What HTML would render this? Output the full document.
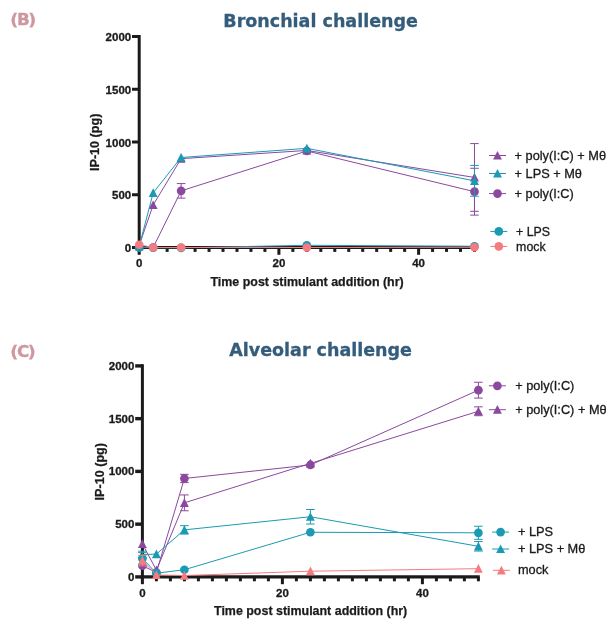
<!DOCTYPE html>
<html><head><meta charset="utf-8"><title>IP-10 challenge charts</title>
<style>
html,body{margin:0;padding:0;background:#fff}
svg{display:block}
.tk{font:bold 11.5px "Liberation Sans",Arial,sans-serif;fill:#1c1a1b;stroke:#1c1a1b;stroke-width:0.3px}
.al{font:bold 12.45px "Liberation Sans",Arial,sans-serif;fill:#1c1a1b;stroke:#1c1a1b;stroke-width:0.25px}
.al2{font:bold 12.6px "Liberation Sans",Arial,sans-serif;fill:#1c1a1b;stroke:#1c1a1b;stroke-width:0.25px}
.lg{font:12.75px "Liberation Sans",Arial,sans-serif;fill:#1c1a1b;stroke:#1c1a1b;stroke-width:0.3px}
.lg2{font:12.35px "Liberation Sans",Arial,sans-serif;fill:#1c1a1b;stroke:#1c1a1b;stroke-width:0.3px}
.tt{font:bold 17.5px "DejaVu Sans","Liberation Sans",sans-serif;fill:#345c7b;stroke:#345c7b;stroke-width:0.3px}
.lb{font:bold 15.7px "DejaVu Sans","Liberation Sans",sans-serif;fill:#cf969e;stroke:#cf969e;stroke-width:0.3px}
</style></head><body>
<svg width="616" height="625" viewBox="0 0 616 625">
<rect width="616" height="625" fill="#fff"/>
<path d="M137.70 247.50H475.83" stroke="#1c1a1b" stroke-width="3.0" fill="none"/>
<path d="M139.20 35.00V249.00" stroke="#1c1a1b" stroke-width="3.0" fill="none"/>
<path d="M132.00 247.50H139.20" stroke="#1c1a1b" stroke-width="3.0"/>
<text x="131.20" y="252.00" text-anchor="end" class="tk">0</text>
<path d="M132.00 194.75H139.20" stroke="#1c1a1b" stroke-width="3.0"/>
<text x="131.20" y="199.25" text-anchor="end" class="tk">500</text>
<path d="M132.00 142.00H139.20" stroke="#1c1a1b" stroke-width="3.0"/>
<text x="131.20" y="146.50" text-anchor="end" class="tk">1000</text>
<path d="M132.00 89.25H139.20" stroke="#1c1a1b" stroke-width="3.0"/>
<text x="131.20" y="93.75" text-anchor="end" class="tk">1500</text>
<path d="M132.00 36.50H139.20" stroke="#1c1a1b" stroke-width="3.0"/>
<text x="131.20" y="41.00" text-anchor="end" class="tk">2000</text>
<path d="M139.20 247.50V254.80" stroke="#1c1a1b" stroke-width="3.0"/>
<path d="M153.17 247.50V251.90" stroke="#1c1a1b" stroke-width="3.0"/>
<path d="M167.14 247.50V251.90" stroke="#1c1a1b" stroke-width="3.0"/>
<path d="M181.11 247.50V251.90" stroke="#1c1a1b" stroke-width="3.0"/>
<path d="M195.08 247.50V251.90" stroke="#1c1a1b" stroke-width="3.0"/>
<path d="M209.05 247.50V251.90" stroke="#1c1a1b" stroke-width="3.0"/>
<path d="M223.02 247.50V251.90" stroke="#1c1a1b" stroke-width="3.0"/>
<path d="M236.99 247.50V251.90" stroke="#1c1a1b" stroke-width="3.0"/>
<path d="M250.96 247.50V251.90" stroke="#1c1a1b" stroke-width="3.0"/>
<path d="M264.93 247.50V251.90" stroke="#1c1a1b" stroke-width="3.0"/>
<path d="M278.90 247.50V254.80" stroke="#1c1a1b" stroke-width="3.0"/>
<path d="M292.87 247.50V251.90" stroke="#1c1a1b" stroke-width="3.0"/>
<path d="M306.84 247.50V251.90" stroke="#1c1a1b" stroke-width="3.0"/>
<path d="M320.81 247.50V251.90" stroke="#1c1a1b" stroke-width="3.0"/>
<path d="M334.78 247.50V251.90" stroke="#1c1a1b" stroke-width="3.0"/>
<path d="M348.75 247.50V251.90" stroke="#1c1a1b" stroke-width="3.0"/>
<path d="M362.72 247.50V251.90" stroke="#1c1a1b" stroke-width="3.0"/>
<path d="M376.69 247.50V251.90" stroke="#1c1a1b" stroke-width="3.0"/>
<path d="M390.66 247.50V251.90" stroke="#1c1a1b" stroke-width="3.0"/>
<path d="M404.63 247.50V251.90" stroke="#1c1a1b" stroke-width="3.0"/>
<path d="M418.60 247.50V254.80" stroke="#1c1a1b" stroke-width="3.0"/>
<path d="M432.57 247.50V251.90" stroke="#1c1a1b" stroke-width="3.0"/>
<path d="M446.54 247.50V251.90" stroke="#1c1a1b" stroke-width="3.0"/>
<path d="M460.51 247.50V251.90" stroke="#1c1a1b" stroke-width="3.0"/>
<path d="M474.48 247.50V251.90" stroke="#1c1a1b" stroke-width="3.0"/>
<text x="139.20" y="266.7" text-anchor="middle" class="tk">0</text>
<text x="278.90" y="266.7" text-anchor="middle" class="tk">20</text>
<text x="418.60" y="266.7" text-anchor="middle" class="tk">40</text>
<text x="307.09" y="285.9" text-anchor="middle" class="al">Time post stimulant addition (hr)</text>
<text transform="translate(99.2,142.30) rotate(-90)" text-anchor="middle" class="al2">IP-10 (pg)</text>
<polyline points="139.20,245.39 153.17,204.98 181.11,158.67 306.84,150.44 474.48,177.45" fill="none" stroke="#8a499e" stroke-width="1.0"/>
<path d="M474.48 143.58V211.31M470.18 143.58H478.78M470.18 211.31H478.78" stroke="#8a499e" stroke-width="1.0" fill="none"/>
<polygon points="139.20,240.79 134.75,249.49 143.65,249.49" fill="#8a499e"/>
<polygon points="153.17,200.38 148.72,209.08 157.62,209.08" fill="#8a499e"/>
<polygon points="181.11,154.07 176.66,162.77 185.56,162.77" fill="#8a499e"/>
<polygon points="306.84,145.84 302.39,154.54 311.29,154.54" fill="#8a499e"/>
<polygon points="474.48,172.85 470.03,181.55 478.93,181.55" fill="#8a499e"/>
<polyline points="139.20,247.50 153.17,247.50 181.11,190.85 306.84,150.97 474.48,191.69" fill="none" stroke="#8a499e" stroke-width="1.0"/>
<path d="M181.11 183.57V198.13M176.81 183.57H185.41M176.81 198.13H185.41" stroke="#8a499e" stroke-width="1.0" fill="none"/>
<path d="M474.48 168.27V215.11M470.18 168.27H478.78M470.18 215.11H478.78" stroke="#8a499e" stroke-width="1.0" fill="none"/>
<circle cx="139.20" cy="247.50" r="4.35" fill="#8a499e"/>
<circle cx="153.17" cy="247.50" r="4.35" fill="#8a499e"/>
<circle cx="181.11" cy="190.85" r="4.35" fill="#8a499e"/>
<circle cx="306.84" cy="150.97" r="4.35" fill="#8a499e"/>
<circle cx="474.48" cy="191.69" r="4.35" fill="#8a499e"/>
<polyline points="139.20,246.44 153.17,192.85 181.11,157.51 306.84,148.33 474.48,180.82" fill="none" stroke="#1a9ab3" stroke-width="1.0"/>
<path d="M474.48 165.42V196.23M470.18 165.42H478.78M470.18 196.23H478.78" stroke="#1a9ab3" stroke-width="1.0" fill="none"/>
<polygon points="139.20,241.84 134.75,250.54 143.65,250.54" fill="#1a9ab3"/>
<polygon points="153.17,188.25 148.72,196.95 157.62,196.95" fill="#1a9ab3"/>
<polygon points="181.11,152.91 176.66,161.61 185.56,161.61" fill="#1a9ab3"/>
<polygon points="306.84,143.73 302.39,152.43 311.29,152.43" fill="#1a9ab3"/>
<polygon points="474.48,176.22 470.03,184.92 478.93,184.92" fill="#1a9ab3"/>
<polyline points="139.20,247.39 153.17,247.71 181.11,247.82 306.84,245.28 474.48,246.23" fill="none" stroke="#1a9ab3" stroke-width="1.0"/>
<circle cx="139.20" cy="247.39" r="4.35" fill="#1a9ab3"/>
<circle cx="153.17" cy="247.71" r="4.35" fill="#1a9ab3"/>
<circle cx="181.11" cy="247.82" r="4.35" fill="#1a9ab3"/>
<circle cx="306.84" cy="245.28" r="4.35" fill="#1a9ab3"/>
<circle cx="474.48" cy="246.23" r="4.35" fill="#1a9ab3"/>
<polyline points="139.20,244.76 153.17,247.50 181.11,247.50 306.84,247.50 474.48,247.29" fill="none" stroke="#f47c80" stroke-width="1.0"/>
<circle cx="139.20" cy="244.76" r="4.35" fill="#f47c80"/>
<circle cx="153.17" cy="247.50" r="4.35" fill="#f47c80"/>
<circle cx="181.11" cy="247.50" r="4.35" fill="#f47c80"/>
<circle cx="306.84" cy="247.50" r="4.35" fill="#f47c80"/>
<circle cx="474.48" cy="247.29" r="4.35" fill="#f47c80"/>
<path d="M489.00 155.50H506.00" stroke="#8a499e" stroke-width="1.0"/>
<polygon points="497.50,150.90 493.05,159.60 501.95,159.60" fill="#8a499e"/>
<text x="514.6" y="159.60" class="lg">+ poly(I:C) + Mθ</text>
<path d="M489.00 173.50H506.00" stroke="#1a9ab3" stroke-width="1.0"/>
<polygon points="497.50,168.90 493.05,177.60 501.95,177.60" fill="#1a9ab3"/>
<text x="514.6" y="177.60" class="lg">+ LPS + Mθ</text>
<path d="M489.00 193.60H506.00" stroke="#8a499e" stroke-width="1.0"/>
<circle cx="497.50" cy="193.60" r="4.35" fill="#8a499e"/>
<text x="514.6" y="197.70" class="lg">+ poly(I:C)</text>
<path d="M490.30 231.45H507.30" stroke="#1a9ab3" stroke-width="1.0"/>
<circle cx="498.80" cy="231.45" r="4.35" fill="#1a9ab3"/>
<text x="516.1" y="236.25" class="lg2">+ LPS</text>
<path d="M490.30 246.45H507.30" stroke="#f47c80" stroke-width="1.0"/>
<circle cx="498.80" cy="246.45" r="4.35" fill="#f47c80"/>
<text x="516.1" y="251.25" class="lg2">mock</text>
<text transform="translate(320.6,26.9) scale(1.0,1)" text-anchor="middle" class="tt">Bronchial challenge</text>
<text transform="translate(10.2,24.7) scale(1.07,1)" class="lb"><tspan font-size="16.3" dy="0.4">(</tspan><tspan dy="-0.2" dx="-1.2">B</tspan><tspan font-size="16.3" dy="0.2" dx="-1.4">)</tspan></text>
<polygon points="142.40,549.93 137.95,558.63 146.85,558.63" fill="#1a9ab3"/>
<path d="M140.90 576.90H479.75" stroke="#1c1a1b" stroke-width="3.4" fill="none"/>
<path d="M142.40 364.20V578.60" stroke="#1c1a1b" stroke-width="3.0" fill="none"/>
<path d="M135.20 576.90H142.40" stroke="#1c1a1b" stroke-width="3.4"/>
<text x="134.40" y="580.80" text-anchor="end" class="tk">0</text>
<path d="M135.20 524.15H142.40" stroke="#1c1a1b" stroke-width="3.4"/>
<text x="134.40" y="528.05" text-anchor="end" class="tk">500</text>
<path d="M135.20 471.40H142.40" stroke="#1c1a1b" stroke-width="3.4"/>
<text x="134.40" y="475.30" text-anchor="end" class="tk">1000</text>
<path d="M135.20 418.65H142.40" stroke="#1c1a1b" stroke-width="3.4"/>
<text x="134.40" y="422.55" text-anchor="end" class="tk">1500</text>
<path d="M135.20 365.90H142.40" stroke="#1c1a1b" stroke-width="3.4"/>
<text x="134.40" y="369.80" text-anchor="end" class="tk">2000</text>
<path d="M142.40 576.90V584.20" stroke="#1c1a1b" stroke-width="3.0"/>
<path d="M156.40 576.90V581.30" stroke="#1c1a1b" stroke-width="3.0"/>
<path d="M170.40 576.90V581.30" stroke="#1c1a1b" stroke-width="3.0"/>
<path d="M184.40 576.90V581.30" stroke="#1c1a1b" stroke-width="3.0"/>
<path d="M198.40 576.90V581.30" stroke="#1c1a1b" stroke-width="3.0"/>
<path d="M212.40 576.90V581.30" stroke="#1c1a1b" stroke-width="3.0"/>
<path d="M226.40 576.90V581.30" stroke="#1c1a1b" stroke-width="3.0"/>
<path d="M240.40 576.90V581.30" stroke="#1c1a1b" stroke-width="3.0"/>
<path d="M254.40 576.90V581.30" stroke="#1c1a1b" stroke-width="3.0"/>
<path d="M268.40 576.90V581.30" stroke="#1c1a1b" stroke-width="3.0"/>
<path d="M282.40 576.90V584.20" stroke="#1c1a1b" stroke-width="3.0"/>
<path d="M296.40 576.90V581.30" stroke="#1c1a1b" stroke-width="3.0"/>
<path d="M310.40 576.90V581.30" stroke="#1c1a1b" stroke-width="3.0"/>
<path d="M324.40 576.90V581.30" stroke="#1c1a1b" stroke-width="3.0"/>
<path d="M338.40 576.90V581.30" stroke="#1c1a1b" stroke-width="3.0"/>
<path d="M352.40 576.90V581.30" stroke="#1c1a1b" stroke-width="3.0"/>
<path d="M366.40 576.90V581.30" stroke="#1c1a1b" stroke-width="3.0"/>
<path d="M380.40 576.90V581.30" stroke="#1c1a1b" stroke-width="3.0"/>
<path d="M394.40 576.90V581.30" stroke="#1c1a1b" stroke-width="3.0"/>
<path d="M408.40 576.90V581.30" stroke="#1c1a1b" stroke-width="3.0"/>
<path d="M422.40 576.90V584.20" stroke="#1c1a1b" stroke-width="3.0"/>
<path d="M436.40 576.90V581.30" stroke="#1c1a1b" stroke-width="3.0"/>
<path d="M450.40 576.90V581.30" stroke="#1c1a1b" stroke-width="3.0"/>
<path d="M464.40 576.90V581.30" stroke="#1c1a1b" stroke-width="3.0"/>
<path d="M478.40 576.90V581.30" stroke="#1c1a1b" stroke-width="3.0"/>
<text x="142.40" y="597.2" text-anchor="middle" class="tk">0</text>
<text x="282.40" y="597.2" text-anchor="middle" class="tk">20</text>
<text x="422.40" y="597.2" text-anchor="middle" class="tk">40</text>
<text x="310.65" y="614.6" text-anchor="middle" class="al">Time post stimulant addition (hr)</text>
<text transform="translate(104.1,471.70) rotate(-90)" text-anchor="middle" class="al2">IP-10 (pg)</text>
<polyline points="142.40,565.72 156.40,572.47 184.40,478.47 310.40,464.96 478.40,390.16" fill="none" stroke="#8a499e" stroke-width="1.0"/>
<path d="M184.40 474.35V482.58M180.10 474.35H188.70M180.10 482.58H188.70" stroke="#8a499e" stroke-width="1.0" fill="none"/>
<path d="M478.40 382.25V398.08M474.10 382.25H482.70M474.10 398.08H482.70" stroke="#8a499e" stroke-width="1.0" fill="none"/>
<circle cx="142.40" cy="565.72" r="4.35" fill="#8a499e"/>
<circle cx="156.40" cy="572.47" r="4.35" fill="#8a499e"/>
<circle cx="184.40" cy="478.47" r="4.35" fill="#8a499e"/>
<circle cx="310.40" cy="464.96" r="4.35" fill="#8a499e"/>
<circle cx="478.40" cy="390.16" r="4.35" fill="#8a499e"/>
<polyline points="142.40,543.88 156.40,570.15 184.40,502.84 310.40,463.38 478.40,411.26" fill="none" stroke="#8a499e" stroke-width="1.0"/>
<path d="M184.40 494.93V510.75M180.10 494.93H188.70M180.10 510.75H188.70" stroke="#8a499e" stroke-width="1.0" fill="none"/>
<path d="M478.40 406.83V415.70M474.10 406.83H482.70M474.10 415.70H482.70" stroke="#8a499e" stroke-width="1.0" fill="none"/>
<polygon points="142.40,539.28 137.95,547.98 146.85,547.98" fill="#8a499e"/>
<polygon points="156.40,565.55 151.95,574.25 160.85,574.25" fill="#8a499e"/>
<polygon points="184.40,498.24 179.95,506.94 188.85,506.94" fill="#8a499e"/>
<polygon points="310.40,458.78 305.95,467.48 314.85,467.48" fill="#8a499e"/>
<polygon points="478.40,406.66 473.95,415.37 482.85,415.37" fill="#8a499e"/>
<polyline points="142.40,558.44 156.40,573.21 184.40,569.73 310.40,532.27 478.40,532.80" fill="none" stroke="#1a9ab3" stroke-width="1.0"/>
<path d="M142.40 552.63V564.24M138.10 552.63H146.70M138.10 564.24H146.70" stroke="#1a9ab3" stroke-width="1.0" fill="none"/>
<path d="M478.40 526.26V539.34M474.10 526.26H482.70M474.10 539.34H482.70" stroke="#1a9ab3" stroke-width="1.0" fill="none"/>
<circle cx="142.40" cy="558.44" r="4.35" fill="#1a9ab3"/>
<circle cx="156.40" cy="573.21" r="4.35" fill="#1a9ab3"/>
<circle cx="184.40" cy="569.73" r="4.35" fill="#1a9ab3"/>
<circle cx="310.40" cy="532.27" r="4.35" fill="#1a9ab3"/>
<circle cx="478.40" cy="532.80" r="4.35" fill="#1a9ab3"/>
<polyline points="142.40,554.53 156.40,554.11 184.40,529.85 310.40,516.76 478.40,546.30" fill="none" stroke="#1a9ab3" stroke-width="1.0"/>
<path d="M142.40 551.16V557.91M138.10 551.16H146.70M138.10 557.91H146.70" stroke="#1a9ab3" stroke-width="1.0" fill="none"/>
<path d="M184.40 525.63V534.07M180.10 525.63H188.70M180.10 534.07H188.70" stroke="#1a9ab3" stroke-width="1.0" fill="none"/>
<path d="M310.40 509.49V524.04M306.10 509.49H314.70M306.10 524.04H314.70" stroke="#1a9ab3" stroke-width="1.0" fill="none"/>
<path d="M478.40 541.56V551.05M474.10 541.56H482.70M474.10 551.05H482.70" stroke="#1a9ab3" stroke-width="1.0" fill="none"/>
<polygon points="156.40,549.51 151.95,558.21 160.85,558.21" fill="#1a9ab3"/>
<polygon points="184.40,525.25 179.95,533.95 188.85,533.95" fill="#1a9ab3"/>
<polygon points="310.40,512.16 305.95,520.87 314.85,520.87" fill="#1a9ab3"/>
<polygon points="478.40,541.70 473.95,550.40 482.85,550.40" fill="#1a9ab3"/>
<polyline points="142.40,560.60 156.40,575.00 184.40,575.53 310.40,571.20 478.40,568.67" fill="none" stroke="#f47c80" stroke-width="1.0"/>
<path d="M142.40 555.33V565.88M138.10 555.33H146.70M138.10 565.88H146.70" stroke="#f47c80" stroke-width="1.0" fill="none"/>
<polygon points="142.40,556.00 137.95,564.70 146.85,564.70" fill="#f47c80"/>
<polygon points="156.40,570.40 151.95,579.10 160.85,579.10" fill="#f47c80"/>
<polygon points="184.40,570.93 179.95,579.63 188.85,579.63" fill="#f47c80"/>
<polygon points="310.40,566.60 305.95,575.30 314.85,575.30" fill="#f47c80"/>
<polygon points="478.40,564.07 473.95,572.77 482.85,572.77" fill="#f47c80"/>
<path d="M488.90 385.80H505.90" stroke="#8a499e" stroke-width="1.0"/>
<circle cx="497.40" cy="385.80" r="4.35" fill="#8a499e"/>
<text x="515.2" y="389.90" class="lg">+ poly(I:C)</text>
<path d="M488.90 409.70H505.90" stroke="#8a499e" stroke-width="1.0"/>
<polygon points="497.40,405.10 492.95,413.80 501.85,413.80" fill="#8a499e"/>
<text x="515.2" y="413.80" class="lg">+ poly(I:C) + Mθ</text>
<path d="M492.10 532.10H509.10" stroke="#1a9ab3" stroke-width="1.0"/>
<circle cx="500.60" cy="532.10" r="4.35" fill="#1a9ab3"/>
<text x="518.0" y="536.20" class="lg">+ LPS</text>
<path d="M492.10 549.00H509.10" stroke="#1a9ab3" stroke-width="1.0"/>
<polygon points="500.60,544.40 496.15,553.10 505.05,553.10" fill="#1a9ab3"/>
<text x="518.0" y="553.10" class="lg">+ LPS + Mθ</text>
<path d="M492.90 570.30H509.90" stroke="#f47c80" stroke-width="1.0"/>
<polygon points="501.40,565.70 496.95,574.40 505.85,574.40" fill="#f47c80"/>
<text x="518.0" y="574.40" class="lg">mock</text>
<text transform="translate(320.6,355.85) scale(1.0,1)" text-anchor="middle" class="tt">Alveolar challenge</text>
<text transform="translate(10.2,356.4) scale(1.07,1)" class="lb"><tspan font-size="16.3" dy="0.4">(</tspan><tspan dy="-0.2" dx="-1.2">C</tspan><tspan font-size="16.3" dy="0.2" dx="-1.4">)</tspan></text>
</svg>
</body></html>
